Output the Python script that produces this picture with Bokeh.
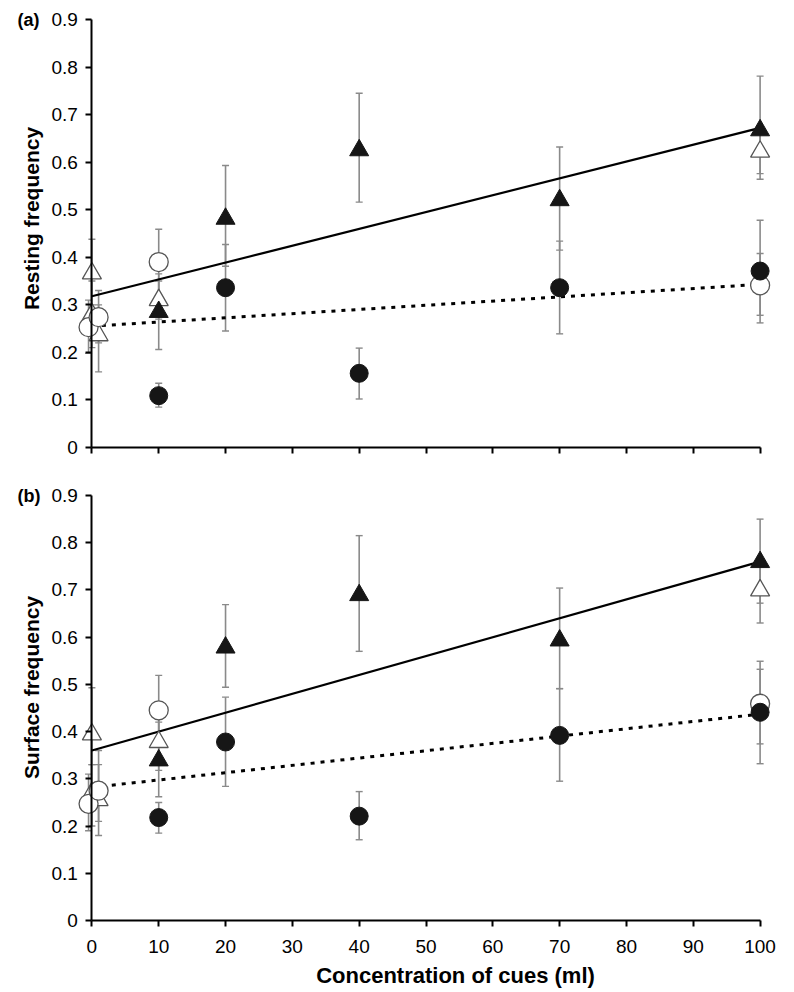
import math
from bokeh.plotting import figure
from bokeh.models import (ColumnDataSource, Whisker, TeeHead, LinearAxis, Label,
                          Range1d, FixedTicker)
from bokeh.layouts import column
from bokeh.embed import file_html
from bokeh.resources import INLINE

# ---------------- data ----------------
x_ticks = [0, 10, 20, 30, 40, 50, 60, 70, 80, 90, 100]
y_ticks = [0, 0.1, 0.2, 0.3, 0.4, 0.5, 0.6, 0.7, 0.8, 0.9]
y_tick_labels = ["0", "0.1", "0.2", "0.3", "0.4", "0.5", "0.6", "0.7", "0.8", "0.9"]
x_title = "Concentration of cues (ml)"

conc_filled = [10, 20, 40, 70, 100]
conc_open_tri = [0, 0, 1, 10, 100]
conc_open_circ = [-0.5, 1, 10, 100]

# (a) Resting frequency
a_ft = [0.285, 0.481, 0.625, 0.520, 0.667]
a_ft_lo = [0.206, 0.381, 0.516, 0.415, 0.564]
a_ft_hi = [0.365, 0.593, 0.745, 0.632, 0.781]
a_fc = [0.109, 0.336, 0.156, 0.336, 0.371]
a_fc_lo = [0.085, 0.245, 0.102, 0.239, 0.262]
a_fc_hi = [0.135, 0.427, 0.209, 0.434, 0.478]
a_ot = [0.366, 0.280, 0.236, 0.310, 0.622]
a_ot_lo = [0.300, 0.210, 0.159, 0.270, 0.576]
a_ot_hi = [0.438, 0.350, 0.300, 0.350, 0.670]
a_oc = [0.253, 0.274, 0.390, 0.341]
a_oc_lo = [0.198, 0.220, 0.320, 0.278]
a_oc_hi = [0.310, 0.330, 0.459, 0.408]
a_fit_x = [0, 100]
a_fit_solid = [0.318, 0.672]
a_fit_dotted = [0.255, 0.343]

# (b) Surface frequency
b_ft = [0.339, 0.578, 0.689, 0.593, 0.759]
b_ft_lo = [0.262, 0.494, 0.570, 0.491, 0.672]
b_ft_hi = [0.420, 0.669, 0.815, 0.704, 0.850]
b_fc = [0.218, 0.378, 0.221, 0.392, 0.441]
b_fc_lo = [0.185, 0.284, 0.171, 0.295, 0.332]
b_fc_hi = [0.250, 0.473, 0.273, 0.491, 0.549]
b_ot = [0.394, 0.270, 0.255, 0.378, 0.699]
b_ot_lo = [0.330, 0.200, 0.180, 0.318, 0.630]
b_ot_hi = [0.493, 0.330, 0.360, 0.440, 0.760]
b_oc = [0.247, 0.275, 0.445, 0.459]
b_oc_lo = [0.190, 0.210, 0.370, 0.374]
b_oc_hi = [0.310, 0.330, 0.519, 0.532]
b_fit_x = [0, 100]
b_fit_solid = [0.360, 0.760]
b_fit_dotted = [0.282, 0.437]

FONT = "Liberation Sans"
ERR = "#8a8a8a"
DARK = "#161616"
OPEN_LINE = "#555555"

# ---------------- layout (pixels) ----------------
W = 790
X0_PX, X100_PX = 91.4, 759.6          # where x=0 and x=100 fall on the canvas
PX_PER_X = (X100_PX - X0_PX) / 100.0
X_START = -X0_PX / PX_PER_X
X_END = (W - X0_PX) / PX_PER_X


def px_x(px):
    return (px - X0_PX) / PX_PER_X


def make_panel(tag, ylabel, ft, ft_lo, ft_hi, fc, fc_lo, fc_hi, ot, ot_lo, ot_hi,
               oc, oc_lo, oc_hi, fit_x, fit_solid, fit_dotted, bottom,
               H, top09_px, zero_px, ytitle_center_px, xtitle_below_px=0):
    ppy = (zero_px - top09_px) / 0.9
    y_top = 0.9 + top09_px / ppy
    y_bot = -(H - zero_px) / ppy

    p = figure(width=W, height=H, output_backend="svg", toolbar_location=None,
               title=None, x_axis_location=None, y_axis_location=None,
               x_range=Range1d(X_START, X_END), y_range=Range1d(y_bot, y_top),
               min_border=0)
    p.min_border_left = 0
    p.min_border_right = 0
    p.min_border_top = 0
    p.min_border_bottom = 0
    p.outline_line_color = None
    p.background_fill_color = "white"
    p.border_fill_color = "white"
    p.grid.visible = False

    # x axis at y = 0
    xa = LinearAxis(fixed_location=0, ticker=FixedTicker(ticks=x_ticks), bounds=(0, 100),
                    axis_line_width=2, axis_line_color="black",
                    major_tick_line_width=2, major_tick_out=6, major_tick_in=0,
                    minor_tick_line_color=None,
                    major_label_text_font=FONT, major_label_text_font_size="19px",
                    major_label_text_color="black", major_label_standoff=13)
    if not bottom:
        xa.major_label_text_color = None
    p.add_layout(xa, "below")

    # y axis at x = 0
    ya = LinearAxis(fixed_location=0, ticker=FixedTicker(ticks=y_ticks), bounds=(0, 0.9),
                    major_label_overrides={t: l for t, l in zip(y_ticks, y_tick_labels)},
                    axis_line_width=2, axis_line_color="black",
                    major_tick_line_width=2, major_tick_out=6, major_tick_in=0,
                    minor_tick_line_color=None,
                    major_label_text_font=FONT, major_label_text_font_size="19px",
                    major_label_text_color="black", major_label_standoff=8)
    p.add_layout(ya, "left")

    # error bars
    groups = [(conc_open_tri, ot, ot_lo, ot_hi), (conc_open_circ, oc, oc_lo, oc_hi),
              (conc_filled, ft, ft_lo, ft_hi), (conc_filled, fc, fc_lo, fc_hi)]
    for xs, ys, lo, hi in groups:
        src = ColumnDataSource(dict(x=xs, y=ys, lo=lo, hi=hi))
        w = Whisker(source=src, base="x", lower="lo", upper="hi",
                    line_color=ERR, line_width=1.6,
                    upper_head=TeeHead(size=7, line_color=ERR, line_width=1.4),
                    lower_head=TeeHead(size=7, line_color=ERR, line_width=1.4))
        p.add_layout(w)

    # regression lines
    p.line(fit_x, fit_solid, line_color="black", line_width=2.2)
    p.line(fit_x, fit_dotted, line_color="black", line_width=3, line_dash="4 6")

    # markers: open first, filled on top
    p.scatter(conc_open_tri, ot, marker="triangle", size=19, fill_color="white",
              line_color=OPEN_LINE, line_width=1.3)
    p.scatter(conc_open_circ, oc, marker="circle", size=19, fill_color="white",
              line_color=OPEN_LINE, line_width=1.3)
    p.scatter(conc_filled, ft, marker="triangle", size=19, fill_color=DARK,
              line_color=DARK, line_width=1)
    p.scatter(conc_filled, fc, marker="circle", size=18, fill_color=DARK,
              line_color=DARK, line_width=1)

    # panel tag
    p.add_layout(Label(x=px_x(17), y=0.9, text=tag, text_font=FONT,
                       text_font_size="18px", text_font_style="bold",
                       text_baseline="middle", text_align="left", text_color="black"))
    # y title
    p.add_layout(Label(x=px_x(31), y=(zero_px - ytitle_center_px) / ppy, text=ylabel,
                       angle=math.pi / 2, text_font=FONT, text_font_size="21px",
                       text_font_style="bold", text_baseline="middle",
                       text_align="center", text_color="black"))
    if bottom:
        p.add_layout(Label(x=px_x(455), y=-xtitle_below_px / ppy, text=x_title,
                           text_font=FONT, text_font_size="22px",
                           text_font_style="bold", text_baseline="middle",
                           text_align="center", text_color="black"))
    return p


HA = 457
HB = 533
pa = make_panel("(a)", "Resting frequency", a_ft, a_ft_lo, a_ft_hi, a_fc, a_fc_lo, a_fc_hi,
                a_ot, a_ot_lo, a_ot_hi, a_oc, a_oc_lo, a_oc_hi,
                a_fit_x, a_fit_solid, a_fit_dotted, False,
                HA, 19, 447, 218)
pb = make_panel("(b)", "Surface frequency", b_ft, b_ft_lo, b_ft_hi, b_fc, b_fc_lo, b_fc_hi,
                b_ot, b_ot_lo, b_ot_hi, b_oc, b_oc_lo, b_oc_hi,
                b_fit_x, b_fit_solid, b_fit_dotted, True,
                HB, 495 - HA, 920 - HA, 687 - HA, 975 - 920)

layout = column(pa, pb, spacing=0)
open("out.html", "w").write(file_html(layout, INLINE))
